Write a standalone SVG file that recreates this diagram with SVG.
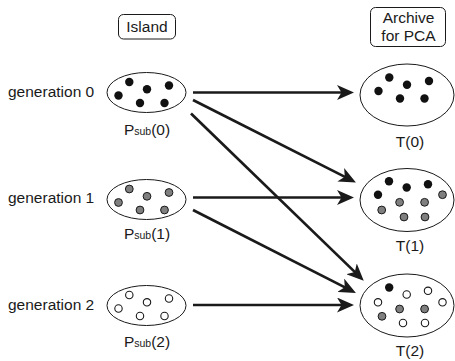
<svg xmlns="http://www.w3.org/2000/svg" width="455" height="361" viewBox="0 0 455 361">
  <style>
    text { font-family: "Liberation Sans", Arial, sans-serif; font-size: 15.5px; fill: #1a1a1a; }
    .mid { text-anchor: middle; }
    .sub { font-size: 10.5px; }
    .box { fill: #fff; stroke: #1a1a1a; stroke-width: 1; }
    .pop { fill: #fff; stroke: #1a1a1a; stroke-width: 1; }
    .b { fill: #111; }
    .g { fill: #7f7f7f; stroke: #1a1a1a; stroke-width: 1; }
    .w { fill: #fff; stroke: #1a1a1a; stroke-width: 1.1; }
    .edge { stroke: #1a1a1a; stroke-width: 2.7; fill: none; marker-end: url(#head); }
  </style>
  <defs>
    <marker id="head" markerUnits="userSpaceOnUse" markerWidth="17" markerHeight="15" viewBox="0 0 17 15" refX="8" refY="7.5" orient="auto">
      <path d="M17,7.5 L0,0 L4.5,7.5 L0,15 Z" fill="#1a1a1a"/>
    </marker>
    <!-- six-point pattern shared by the island populations -->
    <g id="six-b">
      <circle class="b" cx="-17.2" cy="-10.5" r="4.2"/>
      <circle class="b" cx="0.5" cy="-3.2" r="4.2"/>
      <circle class="b" cx="22.5" cy="-7" r="4.2"/>
      <circle class="b" cx="-28" cy="3" r="4.2"/>
      <circle class="b" cx="-6.5" cy="10.5" r="4.2"/>
      <circle class="b" cx="18" cy="10.5" r="4.2"/>
    </g>
    <g id="six-g">
      <circle class="g" cx="-17.2" cy="-10.5" r="3.9"/>
      <circle class="g" cx="0.5" cy="-3.2" r="3.9"/>
      <circle class="g" cx="22.5" cy="-7" r="3.9"/>
      <circle class="g" cx="-28" cy="3" r="3.9"/>
      <circle class="g" cx="-6.5" cy="10.5" r="3.9"/>
      <circle class="g" cx="18" cy="10.5" r="3.9"/>
    </g>
    <g id="six-w">
      <circle class="w" cx="-17.2" cy="-10.5" r="3.7"/>
      <circle class="w" cx="0.5" cy="-3.2" r="3.7"/>
      <circle class="w" cx="22.5" cy="-7" r="3.7"/>
      <circle class="w" cx="-28" cy="3" r="3.7"/>
      <circle class="w" cx="-6.5" cy="10.5" r="3.7"/>
      <circle class="w" cx="18" cy="10.5" r="3.7"/>
    </g>
  </defs>

  <!-- column headers -->
  <g id="hdr-island">
    <rect class="box" x="118.5" y="14.5" width="57" height="24.5" rx="5"/>
    <text class="mid" x="147" y="31.5">Island</text>
  </g>
  <g id="hdr-archive">
    <rect class="box" x="370.5" y="7.5" width="75" height="39" rx="5"/>
    <text class="mid" x="408.5" y="22.5">Archive</text>
    <text class="mid" x="408.5" y="40.5">for PCA</text>
  </g>

  <!-- generation row labels -->
  <g id="gen-labels">
    <text x="8" y="96.5">generation 0</text>
    <text x="8" y="203">generation 1</text>
    <text x="8" y="310">generation 2</text>
  </g>

  <!-- connectors -->
  <g id="connectors">
    <line class="edge" x1="193" y1="92.5" x2="345" y2="92.5"/>
    <line class="edge" x1="193" y1="100" x2="347.9" y2="178.4"/>
    <line class="edge" x1="191" y1="113.5" x2="357.3" y2="274.4"/>
    <line class="edge" x1="193" y1="197.5" x2="345" y2="197.5"/>
    <line class="edge" x1="193" y1="210" x2="347.9" y2="288.9"/>
    <line class="edge" x1="193" y1="305" x2="345" y2="305"/>
  </g>

  <!-- island sub-populations -->
  <g id="psub0">
    <ellipse class="pop" cx="146.5" cy="92.5" rx="39.5" ry="20"/>
    <use href="#six-b" x="146.5" y="92.5"/>
    <text class="mid" x="147" y="135">P<tspan class="sub">sub</tspan>(0)</text>
  </g>
  <g id="psub1">
    <ellipse class="pop" cx="146.5" cy="199.5" rx="39.5" ry="20"/>
    <use href="#six-g" x="146.5" y="199.5"/>
    <text class="mid" x="147" y="238.5">P<tspan class="sub">sub</tspan>(1)</text>
  </g>
  <g id="psub2">
    <ellipse class="pop" cx="146.5" cy="305.5" rx="39.5" ry="20"/>
    <use href="#six-w" x="146.5" y="305.5"/>
    <text class="mid" x="147" y="346.5">P<tspan class="sub">sub</tspan>(2)</text>
  </g>

  <!-- archives -->
  <g id="t0">
    <ellipse class="pop" cx="407" cy="95" rx="47" ry="31"/>
    <use href="#six-b" x="406.5" y="88"/>
    <text class="mid" x="410" y="147">T(0)</text>
  </g>
  <g id="t1">
    <ellipse class="pop" cx="407" cy="200" rx="47" ry="31.5"/>
    <circle class="b" cx="389" cy="181.3" r="4.2"/>
    <circle class="b" cx="406.7" cy="187.5" r="4.2"/>
    <circle class="b" cx="428" cy="184.2" r="4.2"/>
    <circle class="b" cx="378" cy="194.7" r="4.2"/>
    <circle class="g" cx="442.5" cy="194.7" r="3.9"/>
    <circle class="g" cx="399.6" cy="202.3" r="3.9"/>
    <circle class="g" cx="424.6" cy="202.3" r="3.9"/>
    <circle class="g" cx="381.7" cy="210" r="3.9"/>
    <circle class="g" cx="404" cy="217" r="3.9"/>
    <circle class="g" cx="425" cy="217" r="3.9"/>
    <text class="mid" x="410" y="250.5">T(1)</text>
  </g>
  <g id="t2">
    <ellipse class="pop" cx="407" cy="305.5" rx="47" ry="31.5"/>
    <circle class="b" cx="389.2" cy="287.5" r="4.2"/>
    <circle class="w" cx="406.7" cy="294.5" r="3.7"/>
    <circle class="w" cx="428" cy="290.8" r="3.7"/>
    <circle class="w" cx="378" cy="302.3" r="3.7"/>
    <circle class="w" cx="442.5" cy="302.3" r="3.7"/>
    <circle class="g" cx="399.6" cy="309" r="3.9"/>
    <circle class="g" cx="424.6" cy="309" r="3.9"/>
    <circle class="g" cx="382" cy="316.3" r="3.9"/>
    <circle class="w" cx="403" cy="323" r="3.7"/>
    <circle class="w" cx="425" cy="323" r="3.7"/>
    <text class="mid" x="410" y="355.5">T(2)</text>
  </g>
</svg>
